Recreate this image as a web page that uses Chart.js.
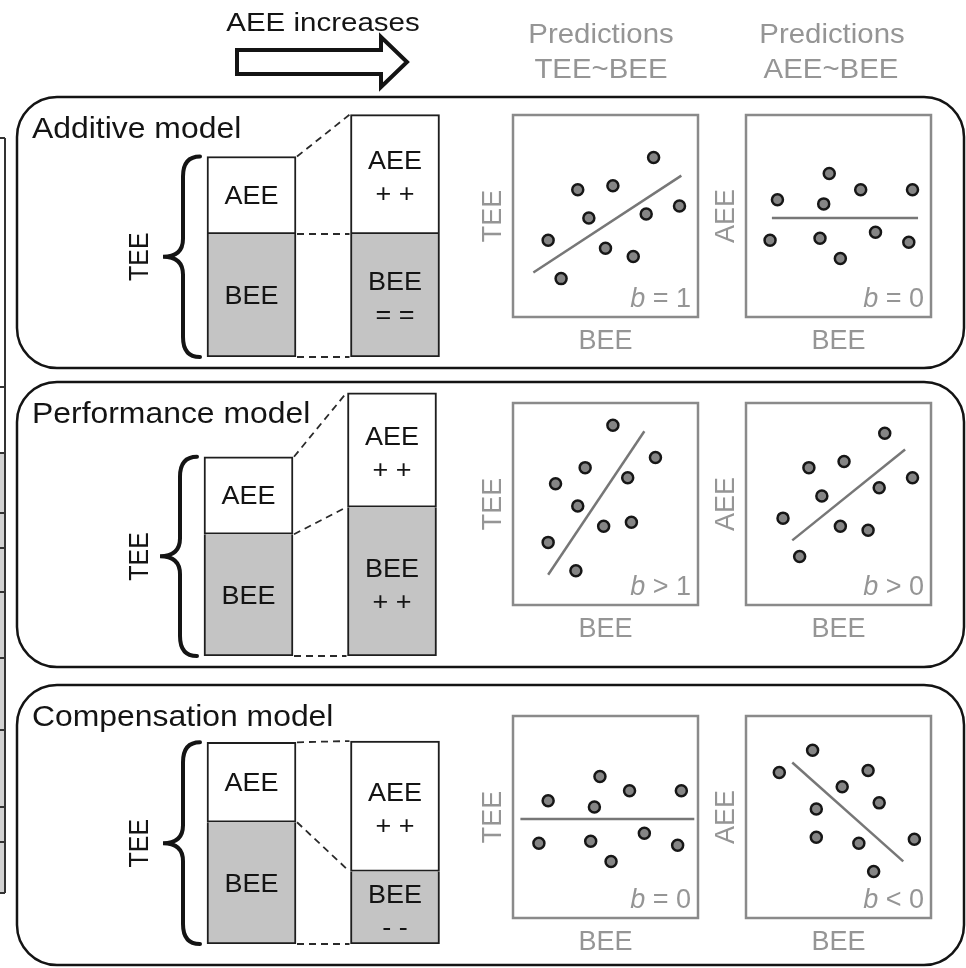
<!DOCTYPE html>
<html lang="en">
<head>
<meta charset="UTF-8">
<title>Additive, performance and compensation models</title>
<script src="https://cdn.jsdelivr.net/npm/chart.js"></script>
<style>
  body { margin: 0; background: #fff; }
  #page { position: relative; width: 966px; height: 968px; overflow: hidden; background: #fff; }
  .box { position: absolute; }
  #decor { position: absolute; left: 0; top: 0; }
</style>
</head>
<body>
<div id="page">
  <canvas id="decor" width="966" height="968"></canvas>
</div>
<script>
// ---- data ----------------------------------------------------------------
// stacked bars, arbitrary energy units (0 = before, 1 = after AEE increases)
const stages = ['before', 'AEE increases'];
const models = ['Additive model', 'Performance model', 'Compensation model'];
const beeValues = [[10, 10], [9.9, 12.1], [9.9, 5.9]];
const aeeValues = [[6.3, 9.7], [6.3, 9.3], [6.5, 10.6]];
const beeMarks = [['', '= ='], ['', '+ +'], ['', '- -']];
const aeeMarks = [['', '+ +'], ['', '+ +'], ['', '+ +']];

// predicted scatter plots, x = BEE, y = TEE or AEE (0..10)
const additiveTee = [[1.9, 3.8], [2.6, 1.9], [3.5, 6.3], [4.1, 4.9], [5.0, 3.4], [5.4, 6.5], [6.5, 3.0], [7.2, 5.1], [7.6, 7.9], [9.0, 5.5]];
const additiveTeeFit = [[1.1, 2.2], [9.1, 7.0]];
const additiveAee = [[1.7, 5.8], [1.3, 3.8], [4.5, 7.1], [4.2, 5.6], [4.0, 3.9], [5.1, 2.9], [6.2, 6.3], [7.0, 4.2], [9.0, 6.3], [8.8, 3.7]];
const additiveAeeFit = [[1.4, 4.9], [9.3, 4.9]];
const performanceTee = [[5.4, 8.9], [2.3, 6.0], [3.9, 6.8], [6.2, 6.3], [7.7, 7.3], [3.5, 4.9], [4.9, 3.9], [6.4, 4.1], [1.9, 3.1], [3.4, 1.7]];
const performanceTeeFit = [[1.9, 1.5], [7.1, 8.6]];
const performanceAee = [[7.5, 8.5], [3.4, 6.8], [5.3, 7.1], [9.0, 6.3], [7.2, 5.8], [4.1, 5.4], [2.0, 4.3], [5.1, 3.9], [6.6, 3.7], [2.9, 2.4]];
const performanceAeeFit = [[2.5, 3.2], [8.6, 7.7]];
const compensationTee = [[4.7, 7.0], [1.9, 5.8], [4.4, 5.5], [6.3, 6.3], [9.1, 6.3], [1.4, 3.7], [4.2, 3.8], [7.1, 4.2], [8.9, 3.6], [5.3, 2.8]];
const compensationTeeFit = [[0.4, 4.9], [9.8, 4.9]];
const compensationAee = [[3.6, 8.3], [1.8, 7.2], [6.6, 7.3], [5.2, 6.5], [7.2, 5.7], [3.8, 5.4], [3.8, 4.0], [6.1, 3.7], [9.1, 3.9], [6.9, 2.3]];
const compensationAeeFit = [[2.5, 7.7], [8.5, 2.8]];
const slopeLabels = [['= 1', '= 0'], ['> 1', '> 0'], ['= 0', '< 0']];

// ---- layout ----------------------------------------------------------------
const FONT = "'Liberation Sans', Arial, sans-serif";
const GRAY = '#959595';
const INK = '#141414';
Chart.defaults.font.family = FONT;

const PANEL_DIV = [[90, 285], [375, 300], [675, 293]];   // top, height of each panel canvas
const PANEL_FRAME = [[97, 368], [382, 667], [685, 965]];
const BAR_BOTTOM = [357, 656, 944];
const BAR_CENTER = [251.5, 248.5, 251.5];
const CAT_W = 143.5, PX = 12.3, Y_MAX = 21.5;

const ROW_TOP = [115, 403, 716];
const COL_LEFT = [513, 746];
const BOX_W = 185, BOX_H = 202, Y_TITLE_W = 35, X_TITLE_H = 41;

function addBox(left, top, w, h) {
  const div = document.createElement('div');
  div.className = 'box';
  Object.assign(div.style, { left: left + 'px', top: top + 'px', width: w + 'px', height: h + 'px' });
  const c = document.createElement('canvas');
  div.appendChild(c);
  document.getElementById('page').appendChild(div);
  return c;
}

// y is the visual centre of the capitals; sx stretches horizontally like the source
function txt(ctx, s, x, y, size, o) {
  o = o || {};
  ctx.save();
  ctx.translate(x, y);
  ctx.scale(o.sx || 1, 1);
  if (o.rot) ctx.rotate(o.rot);
  ctx.font = (o.style || '') + ' ' + size + 'px ' + FONT;
  ctx.fillStyle = o.color || INK;
  ctx.textAlign = o.align || 'center';
  ctx.textBaseline = 'alphabetic';
  ctx.fillText(s, 0, size * 0.358);
  ctx.restore();
}

function roundRect(ctx, x, y, w, h, r) {
  ctx.beginPath();
  ctx.moveTo(x + r, y);
  ctx.arcTo(x + w, y, x + w, y + h, r);
  ctx.arcTo(x + w, y + h, x, y + h, r);
  ctx.arcTo(x, y + h, x, y, r);
  ctx.arcTo(x, y, x + w, y, r);
  ctx.closePath();
}

function brace(ctx, xEnd, top, bottom) {
  const spine = xEnd - 17, tip = xEnd - 37, mid = (top + bottom) / 2;
  ctx.save();
  ctx.strokeStyle = INK;
  ctx.lineWidth = 4;
  ctx.lineCap = 'round';
  ctx.beginPath();
  ctx.moveTo(xEnd, top);
  ctx.quadraticCurveTo(spine, top, spine, top + 20);
  ctx.lineTo(spine, mid - 18);
  ctx.quadraticCurveTo(spine, mid, tip, mid);
  ctx.quadraticCurveTo(spine, mid, spine, mid + 18);
  ctx.lineTo(spine, bottom - 20);
  ctx.quadraticCurveTo(spine, bottom, xEnd, bottom);
  ctx.stroke();
  ctx.restore();
}

// ---- header and cut-off neighbour on the left ----------------------------------
(function drawDecor() {
  const ctx = document.getElementById('decor').getContext('2d');
  txt(ctx, 'AEE increases', 323, 22, 25, { sx: 1.18 });
  ctx.strokeStyle = INK;
  ctx.lineWidth = 4;
  ctx.lineJoin = 'miter';
  ctx.beginPath();
  ctx.moveTo(237, 50); ctx.lineTo(381, 50); ctx.lineTo(381, 37); ctx.lineTo(407, 62);
  ctx.lineTo(381, 87); ctx.lineTo(381, 74); ctx.lineTo(237, 74);
  ctx.closePath();
  ctx.stroke();

  txt(ctx, 'Predictions', 601, 33, 28, { sx: 1.05, color: GRAY });
  txt(ctx, 'TEE~BEE', 601, 68, 28, { sx: 1.05, color: GRAY });
  txt(ctx, 'Predictions', 832, 33, 28, { sx: 1.05, color: GRAY });
  txt(ctx, 'AEE~BEE', 831, 68, 28, { sx: 1.05, color: GRAY });

  ctx.fillStyle = '#d2d2d2';
  ctx.fillRect(0, 453, 5, 440);
  ctx.strokeStyle = '#333';
  ctx.lineWidth = 2;
  ctx.beginPath();
  ctx.moveTo(5, 138); ctx.lineTo(5, 893);
  [138, 387, 453, 513, 548, 592, 658, 730, 807, 842, 893].forEach(y => { ctx.moveTo(0, y); ctx.lineTo(5, y); });
  ctx.stroke();
})();

// ---- panel charts (stacked bars) ----------------------------------------------
const panelDecor = {
  id: 'panelDecor',
  beforeDatasetsDraw(chart, args, opts) {
    const ctx = chart.ctx, i = opts.index, off = PANEL_DIV[i][0];
    const [fTop, fBot] = PANEL_FRAME[i];
    ctx.save();
    ctx.strokeStyle = INK;
    ctx.lineWidth = 2.5;
    roundRect(ctx, 17, fTop - off, 947, fBot - fTop, 40);
    ctx.stroke();
    ctx.restore();
    txt(ctx, models[i], 32, fTop - off + 30.5, 29, { sx: 1.1, align: 'left' });

    const bee = chart.getDatasetMeta(0).data[0], aee = chart.getDatasetMeta(1).data[0];
    const left = bee.x - bee.width / 2;
    brace(ctx, left - 7, aee.y, bee.base);
    txt(ctx, 'TEE', 138, (aee.y + bee.base) / 2, 25, { sx: 1.1, rot: -Math.PI / 2 });
  },
  afterDatasetsDraw(chart) {
    const ctx = chart.ctx;
    const beeMeta = chart.getDatasetMeta(0), aeeMeta = chart.getDatasetMeta(1);
    // dashed connectors between the bar levels
    const a = beeMeta.data[0], b = beeMeta.data[1], a2 = aeeMeta.data[0], b2 = aeeMeta.data[1];
    const x0 = a.x + a.width / 2 + 1, x1 = b.x - b.width / 2 - 1;
    ctx.save();
    ctx.strokeStyle = '#2a2a2a';
    ctx.lineWidth = 1.8;
    ctx.setLineDash([7, 5]);
    [[a.base, b.base], [a.y, b.y], [a2.y, b2.y]].forEach(([y0, y1]) => {
      ctx.beginPath(); ctx.moveTo(x0, y0); ctx.lineTo(x1, y1); ctx.stroke();
    });
    ctx.restore();
    // labels inside bars
    chart.data.datasets.forEach((ds, d) => {
      chart.getDatasetMeta(d).data.forEach((el, j) => {
        const mid = (el.y + el.base) / 2, mark = ds.marks[j];
        if (mark) {
          txt(ctx, ds.label, el.x, mid - 14, 25, { sx: 1.08 });
          txt(ctx, mark, el.x, mid + 19, 25, { sx: 1.08 });
        } else {
          txt(ctx, ds.label, el.x, mid, 25, { sx: 1.08 });
        }
      });
    });
  }
};

models.forEach((m, i) => {
  const [top, h] = PANEL_DIV[i];
  const caLeft = BAR_CENTER[i] - CAT_W / 2;
  const caBottom = BAR_BOTTOM[i];
  const caTop = caBottom - Y_MAX * PX;
  new Chart(addBox(0, top, 966, h), {
    type: 'bar',
    data: {
      labels: stages,
      datasets: [
        { label: 'BEE', data: beeValues[i], marks: beeMarks[i], backgroundColor: '#c4c4c4', borderSkipped: 'top' },
        { label: 'AEE', data: aeeValues[i], marks: aeeMarks[i], backgroundColor: '#ffffff', borderSkipped: false }
      ]
    },
    options: {
      responsive: true,
      maintainAspectRatio: false,
      animation: false,
      events: [],
      layout: { autoPadding: false, padding: { left: caLeft, right: 966 - caLeft - 2 * CAT_W, top: caTop - top, bottom: top + h - caBottom } },
      datasets: { bar: { barThickness: 89, borderColor: '#1e1e1e', borderWidth: 2 } },
      plugins: { legend: { display: false }, tooltip: { enabled: false }, panelDecor: { index: i } },
      scales: {
        x: { stacked: true, display: false },
        y: { stacked: true, display: false, min: 0, max: Y_MAX }
      }
    },
    plugins: [panelDecor]
  });
});

// ---- scatter predictions ---------------------------------------------------------
const scatterFrame = {
  id: 'scatterFrame',
  beforeDatasetsDraw(chart) {
    const { ctx, chartArea: ca } = chart;
    ctx.save();
    ctx.strokeStyle = '#8a8a8a';
    ctx.lineWidth = 2.5;
    ctx.strokeRect(ca.left, ca.top, ca.right - ca.left, ca.bottom - ca.top);
    ctx.restore();
  },
  afterDatasetsDraw(chart, args, opts) {
    const { ctx, chartArea: ca } = chart;
    const right = ca.right - 7, base = ca.bottom - 10;
    ctx.save();
    ctx.fillStyle = GRAY;
    ctx.textAlign = 'right';
    ctx.textBaseline = 'alphabetic';
    ctx.font = '27px ' + FONT;
    const rest = ' ' + opts.slope;
    ctx.fillText(rest, right, base);
    const w = ctx.measureText(rest).width;
    ctx.font = 'italic 27px ' + FONT;
    ctx.fillText('b', right - w, base);
    ctx.restore();
  }
};

const axisTitle = (text, padding) => ({
  display: true, text, color: GRAY, padding,
  font: { size: 27, family: FONT, lineHeight: '32px' }
});

function scatterChart(row, col, pts, fit, yTitle) {
  const canvas = addBox(COL_LEFT[col] - Y_TITLE_W, ROW_TOP[row] - 2, BOX_W + Y_TITLE_W + 2, BOX_H + 2 + X_TITLE_H);
  const hidden = { ticks: { display: false }, grid: { display: false, drawTicks: false }, border: { display: false } };
  new Chart(canvas, {
    type: 'scatter',
    data: {
      datasets: [
        {
          data: pts.map(p => ({ x: p[0], y: p[1] })),
          pointRadius: 5.5, pointBackgroundColor: '#858585', pointBorderColor: '#161616', pointBorderWidth: 2.5,
          order: 0
        },
        {
          type: 'line',
          data: fit.map(p => ({ x: p[0], y: p[1] })),
          borderColor: '#777777', borderWidth: 2.5, pointRadius: 0,
          order: 1
        }
      ]
    },
    options: {
      responsive: true,
      maintainAspectRatio: false,
      animation: false,
      events: [],
      layout: { autoPadding: false, padding: { top: 2, right: 2, left: 0, bottom: 0 } },
      plugins: { legend: { display: false }, tooltip: { enabled: false }, scatterFrame: { slope: slopeLabels[row][col] } },
      scales: {
        x: Object.assign({ type: 'linear', min: 0, max: 10, title: axisTitle('BEE', { top: 9, bottom: 0 }) }, hidden),
        y: Object.assign({ type: 'linear', min: 0, max: 10, title: axisTitle(yTitle, { top: 0, bottom: 3 }) }, hidden)
      }
    },
    plugins: [scatterFrame]
  });
}

scatterChart(0, 0, additiveTee, additiveTeeFit, 'TEE');
scatterChart(0, 1, additiveAee, additiveAeeFit, 'AEE');
scatterChart(1, 0, performanceTee, performanceTeeFit, 'TEE');
scatterChart(1, 1, performanceAee, performanceAeeFit, 'AEE');
scatterChart(2, 0, compensationTee, compensationTeeFit, 'TEE');
scatterChart(2, 1, compensationAee, compensationAeeFit, 'AEE');
</script>
</body>
</html>
